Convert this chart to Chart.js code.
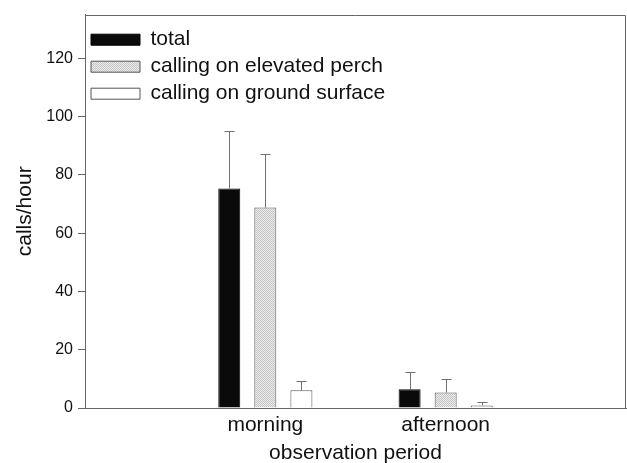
<!DOCTYPE html>
<html>
<head>
<meta charset="utf-8">
<script src="https://cdn.jsdelivr.net/npm/chart.js@4.4.1/dist/chart.umd.min.js"></script>
<style>
  html, body { margin: 0; padding: 0; background: #fff; }
  #wrap { width: 627px; height: 463px; }
</style>
</head>
<body>
<div id="wrap"><canvas id="calls-chart" width="627" height="463"></canvas></div>
<script>
const periods = ['morning', 'afternoon'];
const seriesNames = ['total', 'calling on elevated perch', 'calling on ground surface'];
const totalCalls = [75.3, 6.4];
const elevatedCalls = [68.8, 5.3];
const groundCalls = [6.1, 0.9];
const totalErr = [19.6, 5.9];
const elevatedErr = [18.3, 4.8];
const groundErr = [3.2, 1.1];
const yTicks = [0, 20, 40, 60, 80, 100, 120];

const FONT = "'Liberation Sans', Arial, sans-serif";

// fine stipple used for the grey bars
function stipple() {
  const c = document.createElement('canvas');
  c.width = 2; c.height = 2;
  const g = c.getContext('2d');
  g.fillStyle = '#ececec';
  g.fillRect(0, 0, 2, 2);
  g.fillStyle = '#c4c4c4';
  g.fillRect(0, 0, 1, 1);
  g.fillRect(1, 1, 1, 1);
  return g.createPattern(c, 'repeat');
}

function points(values) {
  return values.map((v, i) => ({ x: i + 1, y: v }));
}

const errorBars = {
  id: 'errorBars',
  afterDatasetsDraw(chart) {
    const ctx = chart.ctx;
    const y = chart.scales.y;
    ctx.save();
    ctx.strokeStyle = '#707070';
    ctx.lineWidth = 1;
    chart.data.datasets.forEach((ds, di) => {
      const meta = chart.getDatasetMeta(di);
      meta.data.forEach((bar, i) => {
        const top = Math.round(y.getPixelForValue(ds.data[i].y + ds.errors[i])) + 0.5;
        const x = Math.round(bar.x) + 0.5;
        ctx.beginPath();
        ctx.moveTo(x, bar.y);
        ctx.lineTo(x, top);
        ctx.moveTo(x - 5, top);
        ctx.lineTo(x + 5, top);
        ctx.stroke();
      });
    });
    ctx.restore();
  }
};

const frame = {
  id: 'frame',
  afterDraw(chart) {
    const a = chart.chartArea;
    const ctx = chart.ctx;
    ctx.save();
    ctx.strokeStyle = '#666';
    ctx.lineWidth = 1;
    ctx.beginPath();
    ctx.moveTo(Math.round(a.left) + 0.5, Math.round(a.top) + 0.5);
    ctx.lineTo(Math.round(a.right) - 0.5, Math.round(a.top) + 0.5);
    ctx.lineTo(Math.round(a.right) - 0.5, Math.round(a.bottom) + 0.5);
    ctx.stroke();
    ctx.restore();
  }
};

const ctx = document.getElementById('calls-chart').getContext('2d');
new Chart(ctx, {
  type: 'bar',
  data: {
    datasets: [
      { label: seriesNames[0], data: points(totalCalls), errors: totalErr,
        backgroundColor: '#0a0a0a', borderColor: '#000', borderWidth: 1 },
      { label: seriesNames[1], data: points(elevatedCalls), errors: elevatedErr,
        backgroundColor: stipple(), borderColor: '#555', borderWidth: 1 },
      { label: seriesNames[2], data: points(groundCalls), errors: groundErr,
        backgroundColor: '#fff', borderColor: '#555', borderWidth: 1 }
    ]
  },
  options: {
    responsive: false,
    animation: false,
    categoryPercentage: 0.6,
    barPercentage: 0.61,
    layout: { padding: { top: 11, right: 1, left: 0, bottom: 0 } },
    plugins: {
      tooltip: { enabled: false },
      legend: {
        position: 'chartArea',
        align: 'start',
        // empty title only pushes the entries down from the frame
        title: { display: true, text: '', padding: { top: 22, bottom: 0 }, font: { size: 1 } },
        labels: {
          boxWidth: 49,
          boxHeight: 11,
          padding: 6,
          color: '#111',
          font: { family: FONT, size: 21 }
        }
      }
    },
    scales: {
      x: {
        type: 'linear',
        min: 0,
        max: 3,
        offset: false,
        afterFit(s) { s.height = 55; },
        afterBuildTicks(s) { s.ticks = [1, 2].map(v => ({ value: v })); },
        ticks: {
          padding: 5,
          maxRotation: 0,
          color: '#111',
          font: { family: FONT, size: 21 },
          callback: v => periods[v - 1] || ''
        },
        grid: { display: false, drawTicks: false },
        border: { display: true, color: '#666' },
        title: {
          display: true,
          text: 'observation period',
          color: '#111',
          padding: { top: 0, bottom: -3 },
          font: { family: FONT, size: 21 }
        }
      },
      y: {
        min: 0,
        max: 135,
        afterFit(s) { s.width = 85; },
        afterBuildTicks(s) { s.ticks = yTicks.map(v => ({ value: v })); },
        ticks: {
          padding: 5,
          color: '#111',
          font: { family: FONT, size: 16 }
        },
        grid: { drawOnChartArea: false, drawTicks: true, tickLength: 7, color: '#666' },
        border: { display: true, color: '#666' },
        title: {
          display: true,
          text: 'calls/hour',
          color: '#111',
          padding: { top: 13, bottom: 0 },
          font: { family: FONT, size: 21 }
        }
      }
    }
  },
  plugins: [errorBars, frame]
});
</script>
</body>
</html>
